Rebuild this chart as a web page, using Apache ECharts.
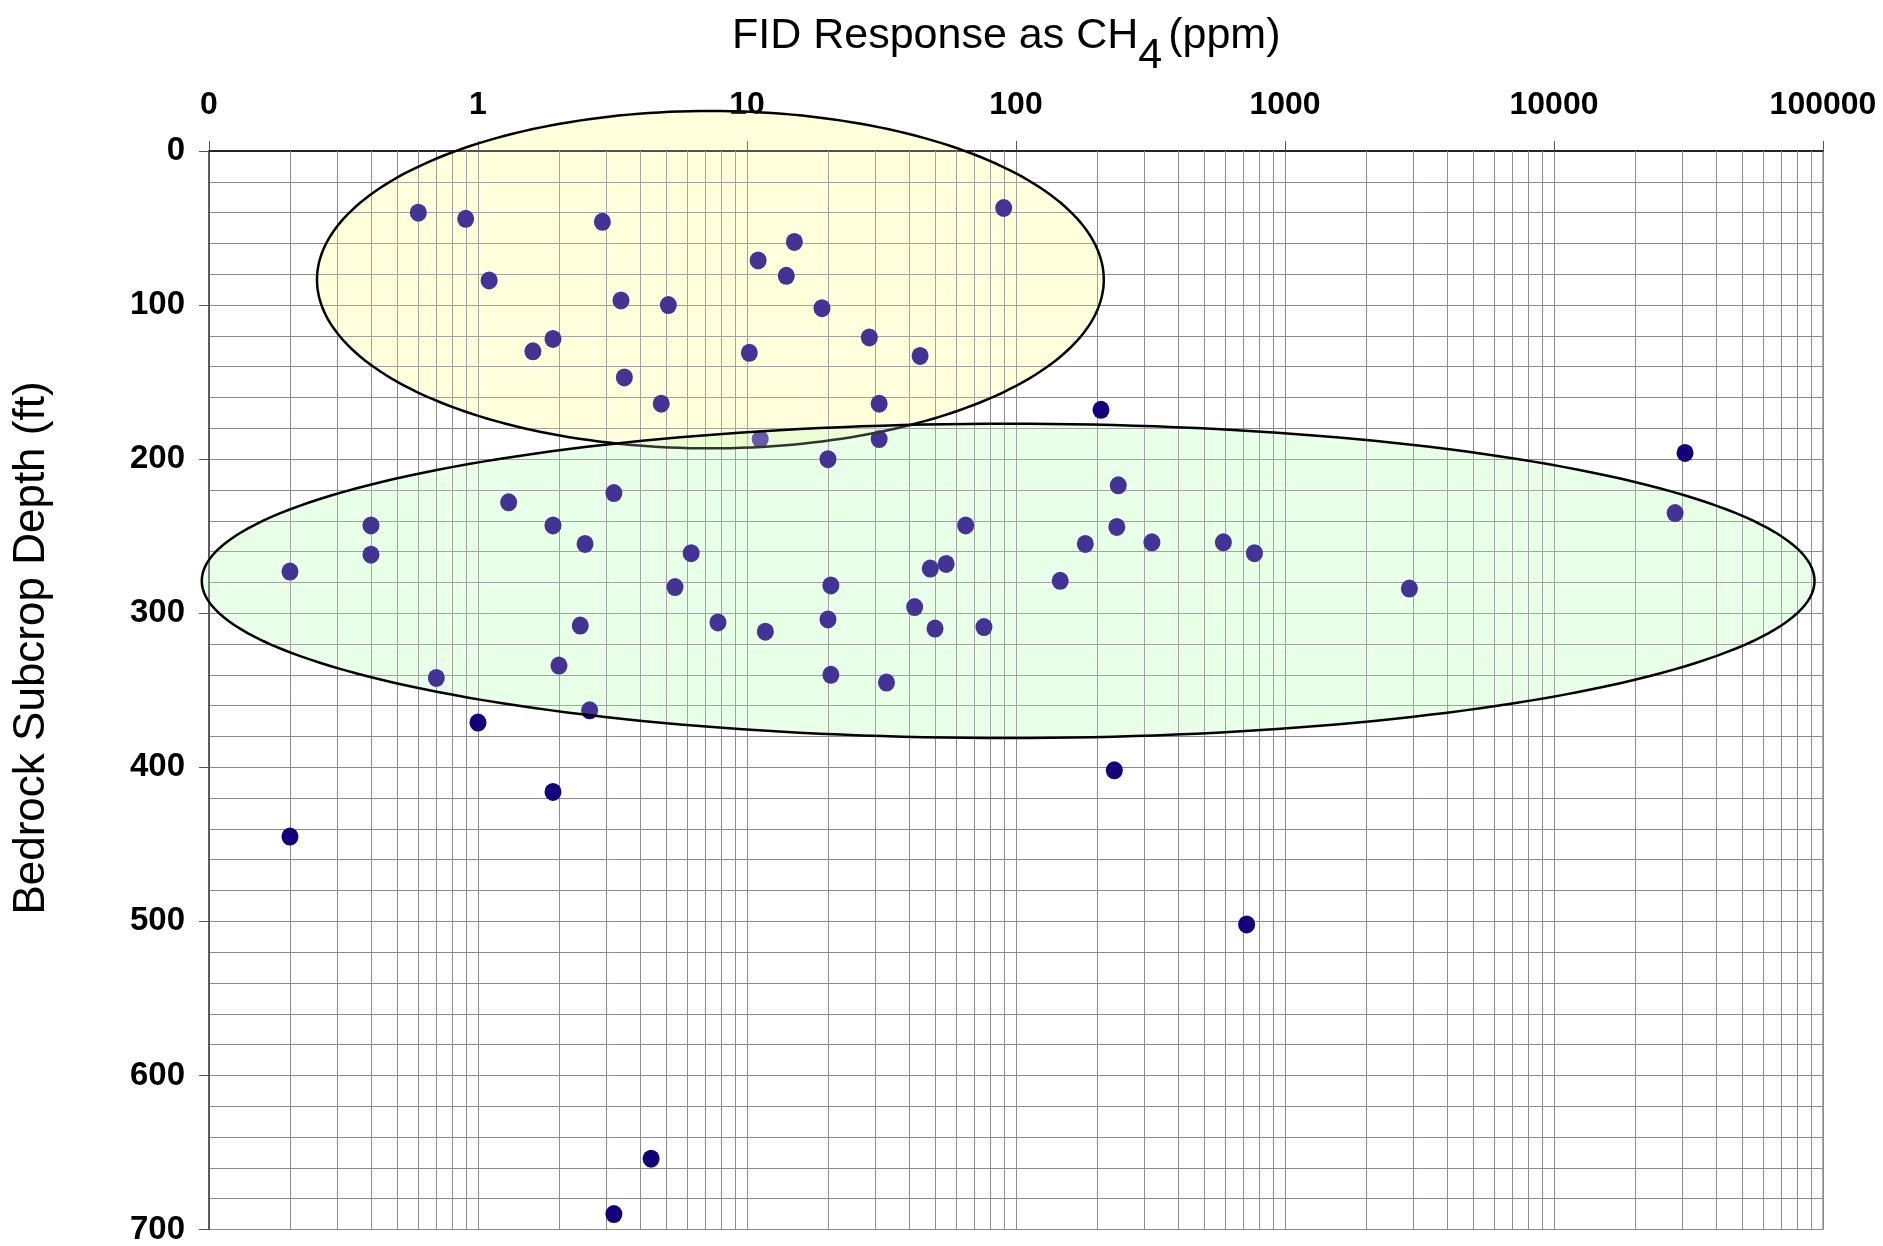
<!DOCTYPE html>
<html>
<head>
<meta charset="utf-8">
<script src="https://cdn.jsdelivr.net/npm/echarts@6/dist/echarts.min.js"></script>
<style>
  html, body { margin: 0; padding: 0; background: #fff; }
  #chart { width: 1883px; height: 1246px; }
</style>
</head>
<body>
<div id="chart"></div>
<script>
// FID response (ppm as CH4) vs bedrock subcrop depth (ft)
const fidPpm = [
  0.6, 0.9, 2.9, 90, 15, 11, 14, 1.1, 3.4, 5.1, 19, 1.9, 1.6, 28.5, 10.2, 44, 3.5, 4.8, 31,
  11.2, 31, 20, 207, 30700, 28200, 3.2, 1.3, 240, 0.4, 1.9, 65, 237, 2.5, 181, 320, 590,
  0.4, 770, 6.2, 0.2, 55, 48, 146, 5.4, 20.5, 2900, 42, 7.8, 20, 2.4, 11.7, 50, 76,
  2.0, 0.7, 20.5, 33, 2.6,
  1.0, 1.9, 232, 0.2, 720, 4.4, 3.2
];
const depthFt = [
  40, 44, 46, 37, 59, 71, 81, 84, 97, 100, 102, 122, 130, 121, 131, 133, 147, 164, 164,
  187, 187, 200, 168, 196, 235, 222, 228, 217, 243, 243, 243, 244, 255, 255, 254, 254,
  262, 261, 261, 273, 268, 271, 279, 283, 282, 284, 296, 306, 304, 308, 312, 310, 309,
  334, 342, 340, 345, 363,
  371, 416, 402, 445, 502, 654, 690
];

// ellipses drawn over the two clusters: [left ppm, right ppm, top ft, bottom ft]
const ellipseNames = ["shallow", "deep"];
const ellipseLeftPpm = [0.252, 0.094];
const ellipseRightPpm = [212, 93000];
const ellipseTopFt = [-26, 177];
const ellipseBottomFt = [193, 381];
const ellipseTint = ["rgba(255,255,0,0.17)", "rgba(0,255,0,0.11)"];

const decades = [0.1, 1, 10, 100, 1000, 10000];
const depthTicks = [0, 100, 200, 300, 400, 500, 600, 700];

const gridColor = "#8c8c8c";
const minorXLines = decades.flatMap(d => [2, 3, 4, 5, 6, 7, 8, 9].map(k => [k * d, 0]));
const ellipseData = ellipseNames.map((n, i) => [ellipseLeftPpm[i], ellipseRightPpm[i], ellipseTopFt[i], ellipseBottomFt[i]]);

// ellipse outline as polygon, placed through the axes
function ellipsePoints(api) {
  const p1 = api.coord([api.value(0), api.value(2)]);
  const p2 = api.coord([api.value(1), api.value(3)]);
  const cx = (p1[0] + p2[0]) / 2;
  const cy = (p1[1] + p2[1]) / 2;
  const rx = Math.abs(p2[0] - p1[0]) / 2;
  const ry = Math.abs(p2[1] - p1[1]) / 2;
  const pts = [];
  for (let k = 0; k < 240; k++) {
    const t = (k / 240) * Math.PI * 2;
    pts.push([cx + rx * Math.cos(t), cy + ry * Math.sin(t)]);
  }
  return pts;
}

const chart = echarts.init(document.getElementById("chart"));

const option = {
  backgroundColor: "#fff",
  animation: false,
  title: {
    text: "{a|FID Response as CH}{s|4}{a|(ppm)}",
    left: 727,
    top: 10,
    textStyle: {
      fontWeight: "normal",
      rich: {
        a: { fontFamily: "Liberation Sans", fontWeight: "normal", fontSize: 43, color: "#000", lineHeight: 45, verticalAlign: "top" },
        s: { fontFamily: "Liberation Sans", fontWeight: "normal", fontSize: 43, color: "#000", lineHeight: 63, verticalAlign: "bottom", padding: [0, 6, 0, 0] },
      },
    },
  },
  graphic: [
    {
      type: "text",
      x: 32,
      y: 648,
      rotation: Math.PI / 2,
      style: {
        text: "Bedrock Subcrop Depth (ft)",
        fontFamily: "Liberation Sans",
        fontSize: 44,
        fill: "#000",
        align: "center",
        verticalAlign: "middle",
      },
    },
  ],
  grid: {
    left: 209,
    right: 60,
    top: 151,
    bottom: 16,
    show: true,
    borderColor: "#555",
    borderWidth: 1,
  },
  xAxis: {
    type: "log",
    logBase: 10,
    position: "top",
    min: 0.1,
    max: 100000,
    splitNumber: 6,
    axisLine: { show: true, onZero: false, lineStyle: { color: "#000", width: 1.5 } },
    axisTick: { show: true, length: 10, lineStyle: { color: "#555" } },
    axisLabel: {
      margin: 30,
      fontFamily: "Liberation Sans",
      fontSize: 32,
      fontWeight: "bold",
      color: "#000",
      formatter: v => (v < 1 ? "0" : String(Math.round(v))),
    },
    splitLine: { show: true, lineStyle: { color: gridColor, width: 1 } },
  },
  yAxis: {
    type: "value",
    inverse: true,
    min: 0,
    max: 700,
    interval: 100,
    axisLine: { show: true, lineStyle: { color: "#444", width: 1.5 } },
    axisTick: { show: true, length: 10, lineStyle: { color: "#555" } },
    axisLabel: {
      margin: 24,
      fontFamily: "Liberation Sans",
      fontSize: 33,
      fontWeight: "bold",
      color: "#000",
      formatter: v => (depthTicks.includes(v) ? String(v) : ""),
    },
    splitLine: { show: true, lineStyle: { color: gridColor, width: 1 } },
    minorTick: { show: false, splitNumber: 5 },
    minorSplitLine: { show: true, lineStyle: { color: gridColor, width: 1 } },
  },
  series: [
    {
      // tint of the ellipses, under the grid lines
      type: "custom",
      silent: true,
      z: -1,
      clip: false,
      data: ellipseData,
      encode: { x: [0, 1], y: [2, 3] },
      renderItem(params, api) {
        return {
          type: "polygon",
          shape: { points: ellipsePoints(api) },
          style: { fill: ellipseTint[params.dataIndex], stroke: null },
        };
      },
    },
    {
      // minor log grid lines (2..9 in each decade)
      type: "custom",
      silent: true,
      z: 1,
      data: minorXLines,
      renderItem(params, api) {
        const cs = params.coordSys;
        const x = Math.round(api.coord([api.value(0), 0])[0]) + 0.5;
        return {
          type: "line",
          shape: { x1: x, y1: cs.y, x2: x, y2: cs.y + cs.height },
          style: { stroke: gridColor, lineWidth: 1 },
        };
      },
    },
    {
      type: "scatter",
      z: 3,
      symbol: "circle",
      symbolSize: [17, 18],
      itemStyle: { color: "#14007a", opacity: 1 },
      data: fidPpm.map((v, i) => [v, depthFt[i]]),
    },
    {
      // translucent overlay + outline on top of the points
      type: "custom",
      silent: true,
      z: 5,
      clip: false,
      data: ellipseData,
      encode: { x: [0, 1], y: [2, 3] },
      renderItem(params, api) {
        return {
          type: "polygon",
          shape: { points: ellipsePoints(api) },
          style: { fill: "rgba(255,255,255,0.2)", stroke: "#000", lineWidth: 2.5 },
        };
      },
    },
  ],
};

chart.setOption(option);
</script>
</body>
</html>
